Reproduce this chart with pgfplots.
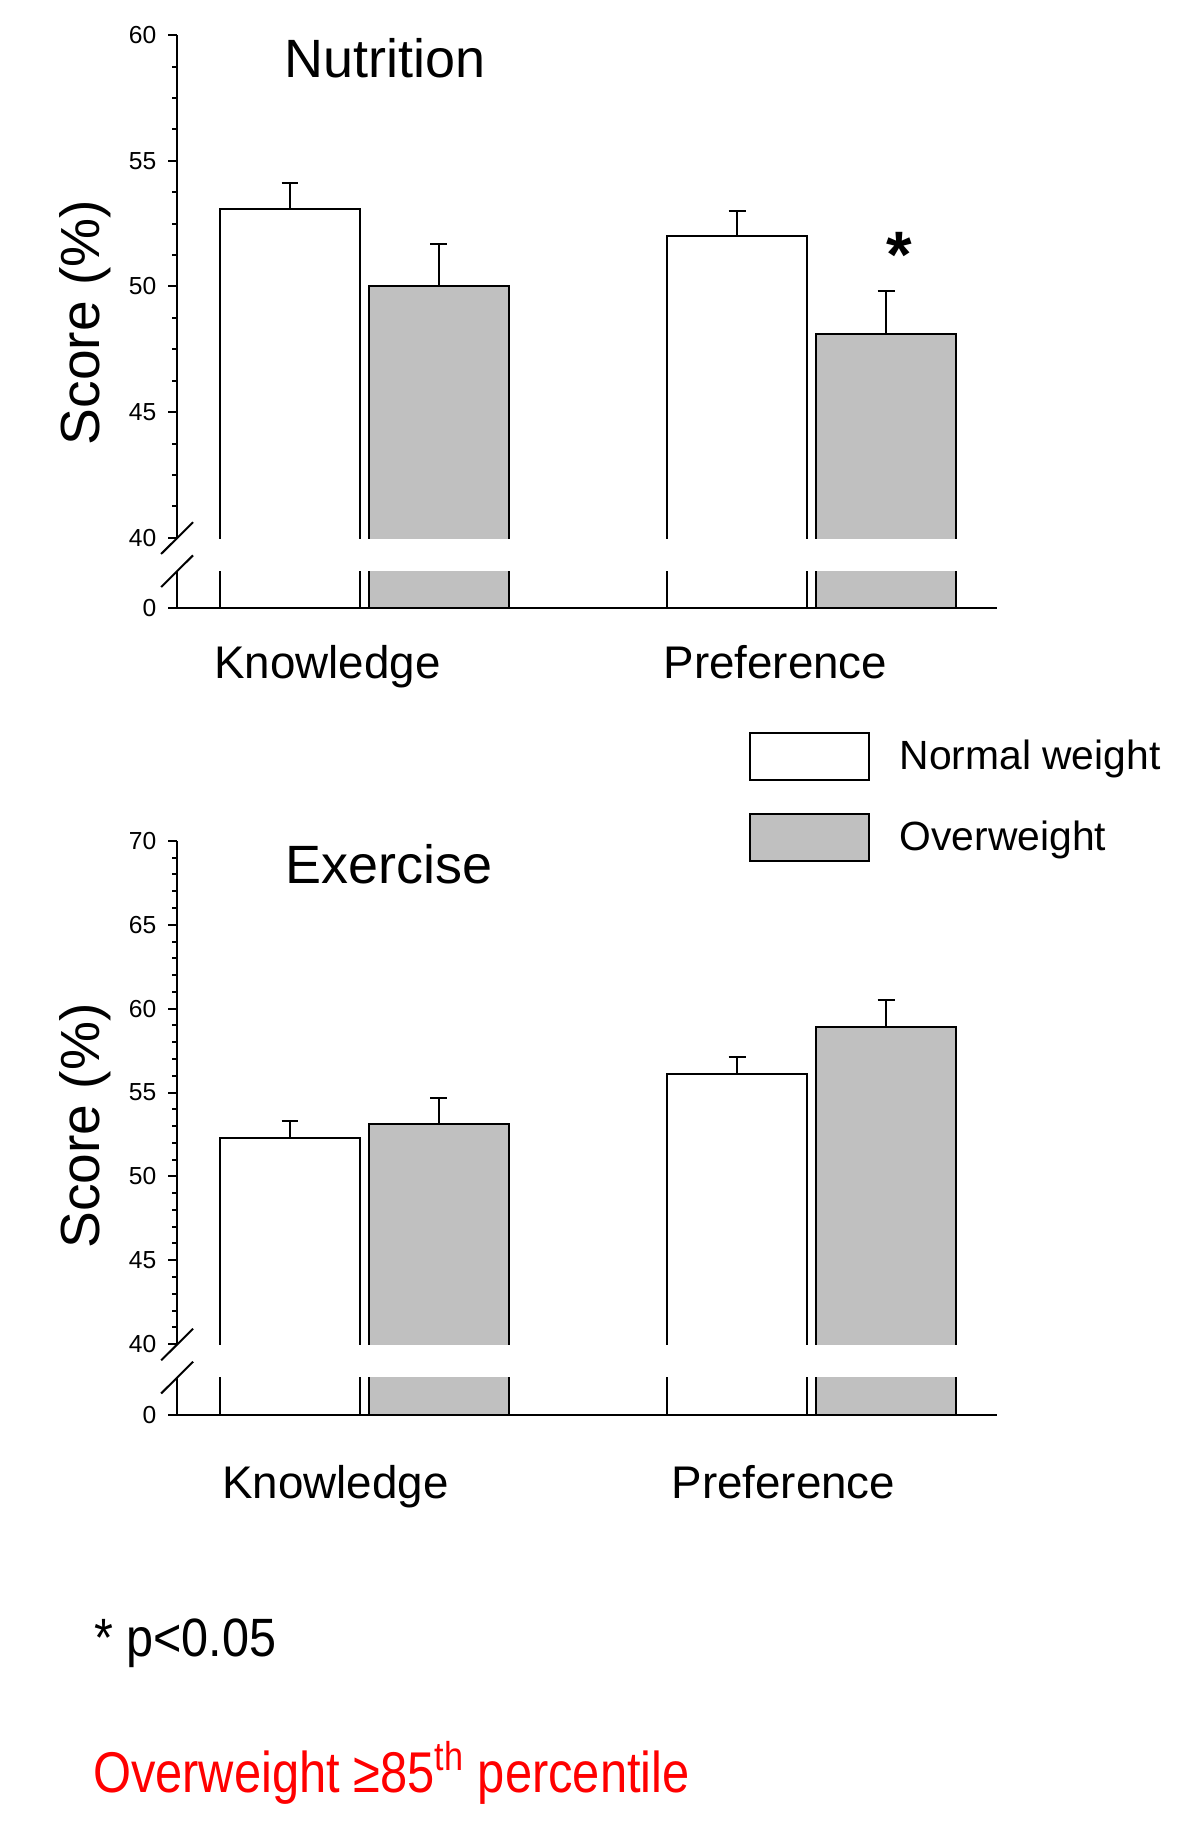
\documentclass[border=0pt]{standalone}
\usepackage{pgfplots}
\pgfplotsset{compat=1.18}
\usepackage{fontspec}
\setmainfont{Liberation Sans}
\definecolor{bargray}{RGB}{192,192,192}

\pgfplotsset{
  panel/.style={
    scale only axis,
    width=349.5pt,
    xmin=-0.419, xmax=1.4145,
    enlargelimits=false,
    ybar=4pt, bar width=59.5pt,
    axis x line=bottom, axis y line=left,
    axis line style={-, line width=0.85pt},
    x axis line style={-}, y axis line style={-},
    every outer x axis line/.append style={-},
    every outer y axis line/.append style={-},
    tick style={line width=0.85pt, black},
    tick align=outside,
    major tick length=3.8pt,
    minor tick length=2.1pt,
    xtick style={draw=none},
    /pgf/number format/assume math mode=true,
    yticklabel style={font=\fontsize{10.5}{12}\selectfont, xshift=-1.5pt},
    xticklabel style={font=\fontsize{19.5}{23}\selectfont, anchor=north, inner sep=0pt},
    anchor=south west,
  },
  nwbar/.style={fill=white, draw=black, line width=0.85pt, bar shift=-31.75pt},
  owbar/.style={fill=bargray, draw=black, line width=0.85pt, bar shift=31.75pt},
  errs/.style={error bars/.cd, y dir=plus, y explicit,
    error bar style={line width=0.85pt, black},
    error mark options={rotate=90, mark size=3.6pt, line width=0.85pt, black}},
}

\begin{document}
\begin{tikzpicture}
\useasboundingbox (0pt,0pt) rectangle (511.5pt,-784pt);

% ---------------- Nutrition ----------------
\begin{axis}[panel, at={(75.5pt,-259.3pt)}, height=244.3pt,
  y coord trafo/.code={\pgfmathparse{(#1>=40)*(#1)+(#1<40)*(37.195+0.070125*(#1))}},
  y coord inv trafo/.code={\pgfmathparse{(#1>=40)*(#1)+(#1<40)*((#1-37.195)/0.070125)}},
  ymin=0, ymax=60,
  ytick={0,40,45,50,55,60}, yticklabels={0,40,45,50,55,60},
  minor ytick={41.25,42.5,43.75,46.25,47.5,48.75,51.25,52.5,53.75,56.25,57.5,58.75},
  xtick={-0.083,0.919}, xticklabels={Knowledge,Preference},
  xticklabel style={yshift=-11.9pt},
  legend style={at={(0.6967,-0.2157)}, anchor=north west, draw=none, fill=none,
    inner sep=0pt, row sep=13.5pt, font=\fontsize{17.4}{20}\selectfont,
    nodes={inner sep=0pt},
    /tikz/every odd column/.append style={column sep=12.5pt}},
  legend cell align=left]
\addplot[forget plot, nwbar, errs] coordinates {(0,53.1) +- (0,1.0) (1,52.0) +- (0,1.0)};
\addplot[forget plot, owbar, errs] coordinates {(0,50.0) +- (0,1.7) (1,48.1) +- (0,1.7)};
\addlegendimage{legend image code/.code={\draw[fill=white,draw=black,line width=0.85pt] (0pt,-10pt) rectangle (51pt,10pt);}}
\addlegendentry{Normal weight}
\addlegendimage{legend image code/.code={\draw[fill=bargray,draw=black,line width=0.85pt] (0pt,-10pt) rectangle (51pt,10pt);}}
\addlegendentry{Overweight}
\end{axis}

% ---------------- Exercise ----------------
\begin{axis}[panel, at={(75.5pt,-603.05pt)}, height=244.55pt,
  y coord trafo/.code={\pgfmathparse{(#1>=40)*(#1)+(#1<40)*(35.797+0.105075*(#1))}},
  y coord inv trafo/.code={\pgfmathparse{(#1>=40)*(#1)+(#1<40)*((#1-35.797)/0.105075)}},
  ymin=0, ymax=70,
  ytick={0,40,45,50,55,60,65,70}, yticklabels={0,40,45,50,55,60,65,70},
  minor ytick={41,42,43,44,46,47,48,49,51,52,53,54,56,57,58,59,61,62,63,64,66,67,68,69},
  xtick={-0.065,0.937}, xticklabels={Knowledge,Preference},
  xticklabel style={yshift=-17.7pt}]
\addplot[nwbar, errs] coordinates {(0,52.3) +- (0,1.0) (1,56.1) +- (0,1.0)};
\addplot[owbar, errs] coordinates {(0,53.1) +- (0,1.6) (1,58.9) +- (0,1.6)};
\end{axis}

% axis breaks: white gap and slashes
\fill[white] (72.5pt,-229.75pt) rectangle (424.5pt,-243.4pt);
\fill[white] (72.5pt,-573.5pt) rectangle (424.5pt,-587.2pt);
\foreach \yc in {-229.4,-243.5,-573.2,-587.3}{
  \draw[line width=0.85pt] (75.5pt-6.8pt,\yc pt-6.75pt) -- (75.5pt+6.8pt,\yc pt+6.75pt);
}

% titles and labels
\node[anchor=base, font=\fontsize{23}{26}\selectfont] at (164.25pt,-33pt) {Nutrition};
\node[anchor=base, font=\fontsize{23}{26}\selectfont] at (166pt,-376.75pt) {Exercise};
\node[rotate=90, font=\fontsize{23.5}{26}\selectfont] at (36.5pt,-137.5pt) {Score (\%)};
\node[rotate=90, font=\fontsize{23.5}{26}\selectfont] at (36.5pt,-480pt) {Score (\%)};
\node[anchor=base, inner sep=0pt, font=\bfseries\fontsize{28}{30}\selectfont] at (383.2pt,-118.5pt) {*};

% footnotes
\node[anchor=base west, inner sep=0pt, font=\fontsize{23}{26}\selectfont, xscale=0.9] at (40pt,-706pt) {* p<0.05};
\node[anchor=base west, inner sep=0pt, text=red, font=\fontsize{24.5}{28}\selectfont, xscale=0.85] at (39.5pt,-764pt) {Overweight ≥85\textsuperscript{th} percentile};
\end{tikzpicture}
\end{document}
